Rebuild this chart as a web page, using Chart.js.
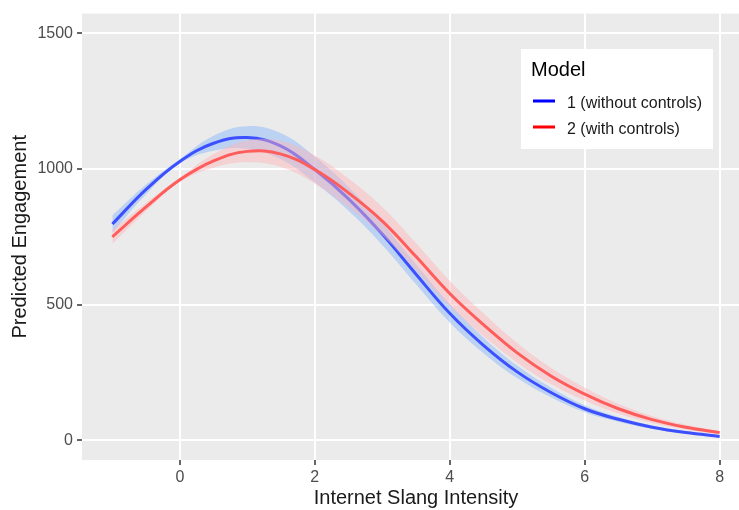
<!DOCTYPE html>
<html>
<head>
<meta charset="utf-8">
<script src="https://cdn.jsdelivr.net/npm/chart.js@4.4.1/dist/chart.umd.min.js"></script>
<style>
  html, body { margin: 0; padding: 0; background: #fff; overflow: hidden; }
  #wrap { width: 750px; height: 510px; }
</style>
</head>
<body>
<div id="wrap"><canvas id="chart" width="750" height="510"></canvas></div>
<script>
// --- Data ---
const xs = [-1, -0.5, 0, 0.5, 1, 1.5, 2, 2.5, 3, 3.5, 4, 4.5, 5, 5.5, 6, 6.5, 7, 7.5, 8];

const blueFit  = [797, 925, 1028, 1095, 1116, 1084, 998, 890, 760, 612, 468, 350, 252, 176, 116, 77, 48, 28, 14];
const blueLow  = [765, 907, 1020, 1067, 1074, 1036, 950, 846, 720, 575, 434, 321, 229, 158, 103, 68, 42, 24, 11];
const blueHigh = [829, 943, 1036, 1123, 1158, 1132, 1046, 934, 800, 649, 502, 379, 275, 194, 129, 86, 54, 32, 17];

const redFit  = [750, 860, 960, 1030, 1065, 1055, 998, 912, 808, 677, 541, 426, 322, 237, 170, 116, 76, 48, 28];
const redLow  = [724, 845, 952, 1005, 1025, 1007, 946, 859, 756, 627, 494, 384, 286, 207, 146, 98, 63, 39, 22];
const redHigh = [776, 875, 968, 1055, 1105, 1103, 1050, 965, 860, 727, 588, 468, 358, 267, 194, 134, 89, 57, 34];

const seriesNames = ['1 (without controls)', '2 (with controls)'];
const legendTitle = 'Model';
const xTicks = [0, 2, 4, 6, 8];
const yTicks = [0, 500, 1000, 1500];

const toPoints = (ys) => xs.map((x, i) => ({ x: x, y: ys[i] }));

const BLUE_LINE = '#3c50ff';
const RED_LINE = '#ff5c5c';
const BLUE_BAND = 'rgba(150, 190, 250, 0.55)';
const RED_BAND = 'rgba(255, 180, 185, 0.45)';
const FONT = '"Liberation Sans", Arial, sans-serif';

// Panel background (ggplot grey)
const panelBg = {
    id: 'panelBg',
    beforeDraw(chart) {
        const { ctx, chartArea: a } = chart;
        ctx.save();
        ctx.fillStyle = '#ebebeb';
        ctx.fillRect(a.left, a.top, a.right - a.left, a.bottom - a.top);
        ctx.restore();
    }
};

// Legend box in the style of ggplot
const boxLegend = {
    id: 'boxLegend',
    afterDraw(chart) {
        const ctx = chart.ctx;
        ctx.save();
        ctx.fillStyle = '#ffffff';
        ctx.fillRect(521, 49, 192, 100);

        ctx.fillStyle = '#000000';
        ctx.textBaseline = 'alphabetic';
        ctx.textAlign = 'left';
        ctx.font = '20px ' + FONT;
        ctx.fillText(legendTitle, 531, 76);

        const keys = ['#0000ff', '#ff0000'];
        ctx.font = '16px ' + FONT;
        seriesNames.forEach((name, i) => {
            const y = 101 + i * 26;
            ctx.strokeStyle = keys[i];
            ctx.lineWidth = 3;
            ctx.beginPath();
            ctx.moveTo(533, y);
            ctx.lineTo(555, y);
            ctx.stroke();
            ctx.fillStyle = '#1a1a1a';
            ctx.fillText(name, 567, y + 7);
        });
        ctx.restore();
    }
};

const base = { pointRadius: 0, tension: 0.4 };
const band = { borderWidth: 0, borderColor: 'rgba(0,0,0,0)' };

new Chart(document.getElementById('chart'), {
    type: 'line',
    data: {
        datasets: [
            { ...base, ...band, data: toPoints(blueLow), fill: false, order: 4 },
            { ...base, ...band, data: toPoints(blueHigh), backgroundColor: BLUE_BAND, fill: 0, order: 4 },
            { ...base, label: seriesNames[0], data: toPoints(blueFit), borderColor: BLUE_LINE, borderWidth: 3, fill: false, order: 3 },
            { ...base, ...band, data: toPoints(redLow), fill: false, order: 2 },
            { ...base, ...band, data: toPoints(redHigh), backgroundColor: RED_BAND, fill: 3, order: 2 },
            { ...base, label: seriesNames[1], data: toPoints(redFit), borderColor: RED_LINE, borderWidth: 3, fill: false, order: 1 }
        ]
    },
    options: {
        responsive: false,
        animation: false,
        devicePixelRatio: 1,
        layout: { padding: { top: 9, right: 0, left: 0, bottom: 0 } },
        plugins: {
            legend: { display: false },
            tooltip: { enabled: false }
        },
        scales: {
            x: {
                type: 'linear',
                min: -1.45,
                max: 8.45,
                afterBuildTicks: (scale) => { scale.ticks = xTicks.map(v => ({ value: v })); },
                afterFit: (scale) => { scale.height = 50; },
                grid: { color: '#ffffff', lineWidth: 2, tickLength: 5, tickColor: '#333333', tickWidth: 1.5 },
                border: { display: false },
                ticks: {
                    font: { size: 16, family: FONT },
                    color: '#4d4d4d',
                    padding: 3,
                    maxRotation: 0,
                    callback: (v) => String(v)
                },
                title: {
                    display: true,
                    text: 'Internet Slang Intensity',
                    font: { size: 20, family: FONT },
                    color: '#1a1a1a',
                    padding: { top: 0, bottom: 0 }
                }
            },
            y: {
                min: -73,
                max: 1573,
                afterBuildTicks: (scale) => { scale.ticks = yTicks.map(v => ({ value: v })); },
                afterFit: (scale) => { scale.width = 82; },
                grid: { color: '#ffffff', lineWidth: 2, tickLength: 5, tickColor: '#333333', tickWidth: 1.5 },
                border: { display: false },
                ticks: {
                    font: { size: 16, family: FONT },
                    color: '#4d4d4d',
                    padding: 4,
                    callback: (v) => String(v)
                },
                title: {
                    display: true,
                    text: 'Predicted Engagement',
                    font: { size: 20, family: FONT },
                    color: '#1a1a1a',
                    padding: { top: 8, bottom: 0 }
                }
            }
        }
    },
    plugins: [panelBg, boxLegend]
});
</script>
</body>
</html>
